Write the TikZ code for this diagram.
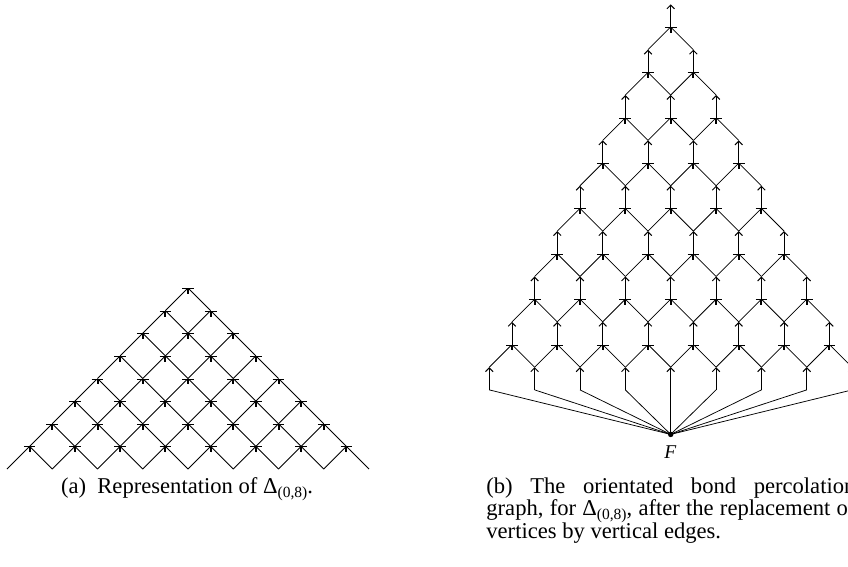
\documentclass[tikz,border=0pt]{standalone}
\usepackage{fontspec}
\setmainfont{Liberation Serif}
\usetikzlibrary{arrows.meta}
\newcommand\dsub[1]{\raisebox{-0.19em}{\fontsize{15.5}{15.5}\selectfont #1}}
\newcommand\capfont{\fontsize{22.6}{22.7}\selectfont}
\begin{document}
\begin{tikzpicture}[x=1pt,y=-1pt,
  edge/.style={line width=0.75pt,-{Straight Barb[length=3.8pt,width=7.6pt,line width=1pt]}},
  plain/.style={line width=0.75pt},
  captext/.style={inner sep=0pt,font=\capfont},
  dot/.style={circle,fill,inner sep=0pt,minimum size=5.5pt}]
\useasboundingbox (0,0) rectangle (848,567);
\clip (0,0) rectangle (848,567);
% ---------------- (a) ----------------
\def\ua{22.625}
\foreach \k in {0,...,8}{
  \foreach \m in {0,...,\k}{
    \coordinate (a-\k-\m) at ({188+(2*\m-\k)*\ua},{288+\k*\ua});
  }
}
\foreach \k in {1,...,8}{
  \pgfmathtruncatemacro\kp{\k-1}
  \foreach \m in {0,...,\k}{
    \pgfmathtruncatemacro\mm{\m-1}
    \ifnum\m>0 \draw[edge] (a-\k-\m) -- (a-\kp-\mm); \fi
    \ifnum\m<\k \draw[edge] (a-\k-\m) -- (a-\kp-\m); \fi
  }
}
% ---------------- (b) ----------------
\def\ub{22.68}
\foreach \r in {0,...,8}{
  \foreach \m in {0,...,\r}{
    \coordinate (bb-\r-\m) at ({670.7+(2*\m-\r)*\ub},{27+2*\r*\ub});
    \coordinate (bt-\r-\m) at ({670.7+(2*\m-\r)*\ub},{27+(2*\r-1)*\ub});
    \draw[edge] (bb-\r-\m) -- (bt-\r-\m);
  }
}
\foreach \r in {1,...,8}{
  \pgfmathtruncatemacro\rp{\r-1}
  \foreach \m in {0,...,\r}{
    \pgfmathtruncatemacro\mm{\m-1}
    \ifnum\m>0 \draw[edge] (bt-\r-\m) -- (bb-\rp-\mm); \fi
    \ifnum\m<\r \draw[edge] (bt-\r-\m) -- (bb-\rp-\m); \fi
  }
}
\node[dot] (F) at (670.7,434.4) {};
\foreach \m in {0,...,8}{
  \draw[plain] (bb-8-\m) -- (F.center);
}
\node[inner sep=0pt,font=\fontsize{19.5}{19.5}\selectfont\itshape] (Flab) at (670.2,452) {F};
% ---------------- captions ----------------
\node[captext,anchor=base] (capa) at (187,493) {(a)\hspace{0.5em}Representation of Δ\dsub{(0,8)}.};
\node[captext,anchor=base west] (capb1) at (486.2,493) {\makebox[369pt][s]{(b) The orientated bond percolation}};
\node[captext,anchor=base west] (capb2) at (486.2,515.5) {\makebox[369pt][s]{graph, for Δ\dsub{(0,8)}, after the replacement of}};
\node[captext,anchor=base west] (capb3) at (486.2,538.5) {vertices by vertical edges.};
\end{tikzpicture}
\end{document}
